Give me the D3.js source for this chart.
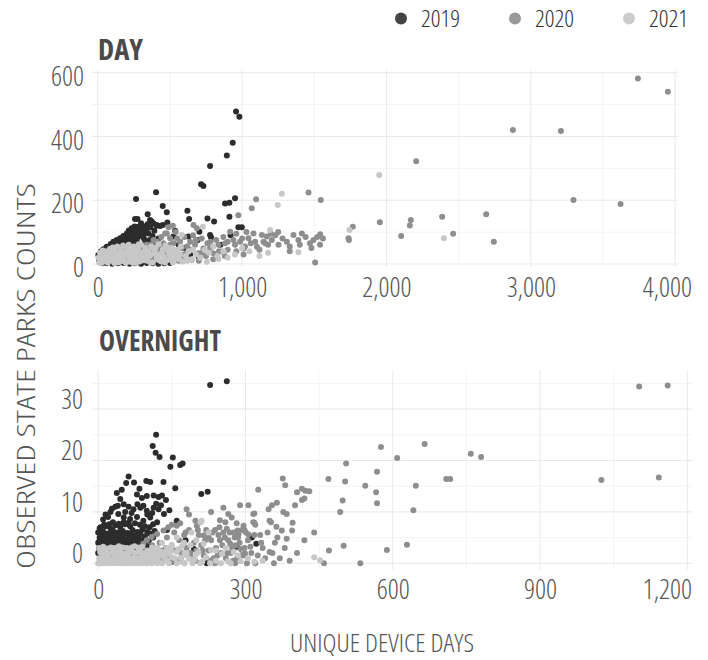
<!DOCTYPE html>
<html>
<head>
<meta charset="utf-8">
<script src="https://cdn.jsdelivr.net/npm/d3@7"></script>
<style>
  html, body { margin: 0; padding: 0; background: #fff; }
  svg text { font-family: "Open Sans", "Noto Sans", sans-serif; font-stretch: 75%; font-weight: 300; }
  svg text.title { font-weight: 700; }
</style>
</head>
<body>
<svg id="chart" width="708" height="660"></svg>
<script>
// Series names and colours
const years = ["2019", "2020", "2021"];
const pointColors = ["#2c2c2c", "#8e8e8e", "#c7c7c7"];
const legendColors = ["#444444", "#999999", "#cccccc"];

// Tick values
const dayXTicks = [0, 1000, 2000, 3000, 4000];
const dayXMinor = [500, 1500, 2500, 3500];
const dayYTicks = [0, 200, 400, 600];
const dayYMinor = [100, 300, 500];
const nightXTicks = [0, 300, 600, 900, 1200];
const nightXMinor = [150, 450, 750, 1050];
const nightYTicks = [0, 10, 20, 30];
const nightYMinor = [5, 15, 25, 35];

// DAY: [unique device days, observed count]
const day2019 = [
  [958,478],[981,462],[935,380],[894,340],[778,307],[716,250],[732,245],[951,206],[912,192],[882,190],
  [404,225],[265,204],[450,182],[478,162],[621,167],[633,141],[346,156],[362,138],[374,133],[258,141],
  [275,141],[482,130],[760,143],[806,133],[912,148],[974,115],[998,115],[408,122],[432,119],[328,109],
  [300,128],[293,112],[281,101],[351,96],[450,122],[392,104],[704,101],[693,75],[778,91],[785,84],
  [628,86],[536,104],[524,86],[409,120],
  [247,107],[224,101],[201,96],[177,88],[155,81],[131,75],[108,70],[90,63],[62,54],[39,46],[21,39],[4,28],
  [230,90],[210,82],[190,75],[170,70],[150,66],[120,60],[100,55],[80,48],[60,42],[40,35],[25,30],[15,22],
  [260,95],[280,85],[300,92],[320,80],[270,72],[240,68],[215,62],[195,58],[165,52],[140,48],[110,42],
  [85,38],[55,30],[35,20],[10,12],[250,55],[300,60],[330,70],[360,75],[380,88],[340,100],[230,40],
  [180,38],[130,32],[75,25],[50,15],[20,8],[400,60],[420,80],[360,50],[290,45],[560,60],[600,50],
  [640,30],[700,20],[530,40],[470,55],[850,60],[920,90],[310,20],[200,20],
  [320,46],[350,45],[380,47],[410,44],[430,46],
  [45,40],[70,50],[95,60],[115,68],[135,70],[160,78],[185,85],[205,88],[220,95],[245,98],[265,110],
  [285,118],[305,110],[325,118],[345,125],[365,115],[385,128],[255,118],[235,112],[215,105],[300,100],
  [320,95],[275,90],[255,80],[225,75],[200,68],[180,60],[160,58],[145,55],[125,50],
  [30,2],[60,3],[100,1],[140,2],[180,3],[220,1],[260,2],[300,1],[340,3],[380,2],[420,1],[460,2],[500,3]
];
const day2020 = [
  [3742,582],[3950,540],[2876,420],[3209,417],[2206,322],[3296,201],[3622,188],[2386,148],[2691,156],
  [1954,131],[2169,138],[2162,121],[2102,88],[2462,95],[2744,70],[1767,117],[1737,81],[1740,75],
  [1460,224],[1545,201],[1097,203],[1067,175],[974,153],[1506,5],[1541,93],[1494,75],[1414,96],[1356,91],
  [1310,70],[1252,60],[1206,75],[1171,86],[1137,91],[1148,70],[1102,54],[1079,96],[1044,81],[1009,49],
  [986,70],[951,60],[917,101],[882,65],[859,39],[836,60],[801,34],[778,50],[732,49],[697,34],[674,60],
  [651,13],[617,34],[582,50],[547,23],[524,65],[501,81],[467,96],[455,65],[420,54],[386,75],[362,39],
  [339,60],[305,29],[270,50],[686,112],[663,122],[478,96],
  [1180,60],[1230,90],[1280,80],[1330,55],[1390,75],[1440,85],[1470,65],[1520,85],[1120,45],[1060,65],
  [1030,100],[1000,80],[960,40],[900,45],[870,85],[820,75],[760,65],[720,80],[660,90],[640,70],[600,85],
  [570,70],[540,100],[510,45],[480,30],[440,85],[400,30],[350,20],[300,45],[250,35],[200,25],[600,20],
  [700,10],[750,25],[800,15],[880,25],[650,45],[560,10],[470,15],[420,35],[380,15],[330,40],[280,20],
  [520,120],[490,115],[1250,100],[1200,95],[1160,65],[1090,70],[1020,55],[940,75],[900,70],[1330,40],
  [1400,60],[1480,50],[1540,60],[1560,80],[1010,30],[960,95],[840,40],[780,70],[720,35],[680,75],
  [620,55],[590,30],[550,80],[500,60],[450,40],[410,70],[370,60],[320,30],[260,40],[230,15],[170,10]
];
const day2021 = [
  [1950,279],[2398,81],[1744,107],[1275,220],[1247,185],[728,117],[582,91],[1390,37],[1194,107],[755,7],[836,16],
  [10,5],[20,15],[30,8],[40,25],[50,12],[60,30],[70,5],[80,20],[90,35],[100,10],[110,28],[120,40],[130,18],
  [140,5],[150,32],[160,45],[170,22],[180,10],[190,38],[200,50],[210,28],[220,15],[230,42],[240,5],
  [250,55],[260,30],[270,18],[280,45],[290,8],[300,60],[310,35],[320,22],[330,50],[340,10],[350,40],
  [360,25],[370,55],[380,5],[390,35],[400,48],[410,18],[420,62],[430,30],[440,8],[450,45],[460,22],
  [470,58],[480,12],[490,38],[500,28],[510,50],[520,5],[530,35],[540,20],[550,45],[560,15],[570,30],
  [590,8],[610,25],[630,40],[650,15],[680,30],[710,20],[740,45],[770,35],[800,55],[830,25],[870,40],
  [900,20],[950,30],[1000,50],[1050,40],[1120,25],[1180,35],
  [5,20],[15,35],[25,3],[35,42],[45,18],[55,8],[65,40],[75,15],[85,48],[95,25],[105,52],[115,3],
  [125,30],[135,55],[145,15],[155,8],[165,35],[175,58],[185,25],[195,3],[205,40],[215,60],[225,8],
  [235,30],[245,20],[255,45],[265,3],[275,35],[285,62],[295,25],[315,12],[325,40],[345,30],[365,5],
  [385,52],[405,30],[425,12],[445,35],[465,5],[485,50],[505,15],[525,45],[545,30],[575,55],[620,10],[660,45]
];

// OVERNIGHT: [unique device days, observed count]
const night2019 = [
  [228,34.7],[262,35.4],[118,25],[111,22.8],[117,21.5],[125,20.7],[152,20.6],[147,18.8],[167,19.1],[172,19.4],
  [133,15.8],[157,14.6],[210,13.5],[223,13.9],[62,16.9],[57,15.6],[38,13.7],[48,14.3],[73,15.7],[98,16],
  [106,15.8],[84,14.5],[79,13.4],[89,12.7],[99,13.1],[113,13.2],[123,12.9],[130,13.2],[52,11.5],[62,11],
  [72,10.5],[86,10.8],[99,10.2],[113,10.8],[123,10.5],[134,9.6],[160,8.3],[41,9.6],[52,8.9],[65,8.6],
  [79,9],[92,8.3],[106,8.9],[120,8],
  [282,3.2],[313,5],[322,3.8],[186,1.6],[221,0],[151,0.3],[226,0.4],[178,4.5],[140,6.5],[195,2.8],
  [5,7],[15,7.2],[25,6.8],[35,7.4],[45,7],[55,7.6],[65,7.2],[75,7.8],
  [0,6],[10,6.2],[20,5.8],[30,6.4],[40,6],[50,6.3],[60,5.9],[70,6.5],[80,6.1],[90,6.6],
  [3,5],[13,4.8],[23,5.2],[33,4.9],[43,5.1],[53,4.8],[63,5.3],[73,5],[83,5.4],[95,5.2],[105,5.8],
  [0,4],[8,3.8],[18,4.1],[28,3.9],[38,4.2],[48,3.8],[58,4.1],[68,4.3],[78,4],[88,4.4],
  [2,3],[12,2.8],[22,3.1],[32,2.9],[42,3.2],[52,3],[62,3.3],[72,3.1],
  [0,2],[6,1.8],[16,2.2],[26,1.9],[36,2.1],
  [30,8],[25,10],[35,11],[45,12.5],[20,9],[10,8.5],
  [4,1.5],[14,1.3],[24,1.6],[34,1.4],[44,1.7],[54,1.5],[64,1.8],[74,1.6],[84,1.9],
  [7,2.5],[17,2.6],[27,2.4],[37,2.7],[47,2.5],[57,2.3],[67,2.6],[77,2.8],[87,2.5],[97,2.9],
  [5,3.5],[15,3.4],[25,3.6],[35,3.3],[45,3.7],[55,3.5],[65,3.8],[75,3.5],[85,3.6],[95,3.9],[102,3.2],
  [3,4.5],[13,4.6],[23,4.4],[33,4.7],[43,4.5],[53,4.3],[63,4.6],[73,4.8],[83,4.5],[93,4.7],[103,4.4],[112,5],
  [6,5.5],[16,5.6],[26,5.4],[36,5.7],[46,5.5],[56,5.8],[66,5.6],[76,5.5],[86,5.9],[100,6.1],[115,6.3],
  [3,6.8],[12,7.5],[22,7.6],[42,7.7],[52,8],[62,7.9],[85,7.5],[95,7.2],[105,7],[112,7.6],
  [15,9.5],[28,10.6],[40,11.2],[55,10],[68,9.8],[80,11.5],[92,11.2],[100,9.5],[110,9.8],[118,11.6],
  [128,11.3],[138,12.3],[145,10.3]
];
const night2020 = [
  [1102,34.4],[1160,34.6],[576,22.6],[665,23.2],[609,20.5],[759,21.3],[780,20.7],[505,19.4],[568,17.8],
  [469,16.4],[503,15.9],[544,15.1],[647,15.1],[709,16.4],[717,16.4],[1025,16.2],[1142,16.7],[566,13.8],
  [498,12.2],[568,11.7],[642,10.3],[493,10],[500,3.4],[588,2.6],[629,3.6],[534,0],
  [326,14.3],[376,16.5],[381,15.2],[405,13.8],[415,14.5],[422,14.1],[430,14],[415,12.3],[420,12.6],
  [401,11.3],[364,11.8],[354,11.3],[347,10.5],[289,11.3],[306,11.3],[318,9.7],[318,7.9],[377,10],
  [384,9.6],[396,7.9],[395,6.4],[384,4.8],[349,8.3],[352,8],[363,7.1],[374,6.4],[349,2.2],[358,0],
  [301,6],[298,6.5],[282,7.8],[284,6.4],[265,9.6],[299,1.9],[296,1.5],[279,0],[303,0],[320,0],
  [316,9.6],[272,8.9],[248,8.4],[259,8],[296,7.3],[316,8],[320,7.5],[238,6.5],[262,6.7],[276,6],
  [286,5.7],[306,5.6],[215,5.4],[225,5],[248,4.5],[269,3.8],[293,1.6],[238,0],[208,0.1],[167,7.8],
  [160,7.3],[150,7.5],[201,7.3],[208,8],[198,8.3],[143,7],[133,6.4],[120,5.7],[109,5.1],[99,4.5],[92,3.8],
  [100,2],[110,3.5],[115,1],[125,4],[130,2.5],[140,5],[145,1.5],[150,3.5],[155,6],[160,0.5],[165,4.5],
  [170,2],[175,5.5],[180,3],[185,6.5],[190,1],[195,4],[200,2.5],[205,5.5],[210,3.5],[215,1.5],[220,6.5],
  [225,2.5],[230,4.5],[235,1],[240,3],[245,5.5],[250,2],[255,6],[260,1],[265,4.5],[270,2],[275,0.5],
  [280,3.5],[285,5],[290,2.8],[310,3.2],[330,5.5],[340,1],[335,3],[360,4],
  [185,9.5],[230,10],[255,10.8],[180,10.5],
  [95,1],[105,0.3],[118,2.2],[128,0.5],[138,3],[148,0.2],[158,2.5],[168,1],[178,6],[188,2],[198,0.5],
  [203,6.5],[213,2.5],[218,4.5],[228,0.5],[233,6],[243,1.5],[247,7],[253,3.5],[258,5],[263,2],[268,6],
  [273,3],[278,5],[283,1],[288,4],[293,6.5],[298,3],[305,4.5],[312,2],[318,5.5],[325,1.5],[332,4],
  [345,6],[355,2],[365,5],[370,1],[380,3],[390,0.5],[405,2],[420,4.5],[440,6],[460,0],[470,2.5]
];
const night2021 = [
  [0,0],[8,0.5],[16,1.2],[24,0.3],[32,2],[40,0.8],[48,1.5],[56,0.2],[64,2.5],[72,1],[80,0.4],[88,1.8],
  [96,0.6],[4,2.2],[12,2.8],[20,1.8],[28,3],[36,1],[44,2.6],[52,0.6],[60,1.6],[68,3.1],[76,2],[84,2.8],
  [92,1.2],[100,2.5],[108,0.8],[116,2],[124,0.3],[132,1.6],[140,0.5],[148,2.4],[156,1],[164,2.8],
  [172,0.2],[180,1.5],[188,3.5],[196,0.8],[204,2.2],[212,0.3],[220,1.2],[230,2.6],[240,0.5],[252,1.8],
  [264,0.4],[276,2.2],[290,0.4],[305,1],[318,0.3],[335,0.5],[452,0.6],[440,1.2],
  [211,8.3],[208,8],[150,3.5],[160,5],[175,4],[190,6],[200,4.5],[215,3.8],[225,6],[240,2.5],[180,2],
  [130,4],[120,3],[260,3],[285,1.5],
  [4,0],[12,0],[20,0],[28,0],[36,0],[44,0],[52,0],[60,0],[68,0],[76,0],[84,0],[92,0],[100,0],[110,0],
  [120,0],[130,0],[144,0],[160,0],[176,0],[192,0],[208,0],[228,0],[250,0],[270,0],
  [2,1],[10,1.1],[18,0.9],[26,1],[34,1.2],[42,1],[50,1.1],[58,0.9],[66,1],[74,1.2],[82,1],[90,0.9],
  [98,1.1],[106,1.5],[114,1],[122,1.3],[135,1.1],[150,1.2],[168,1.1],[185,0.9],
  [6,2],[14,2.1],[22,1.9],[30,2.2],[38,2],[46,2.1],[54,1.9],[62,2],[70,2.2],[78,2.1],[86,2.3],[94,2],
  [104,1.9],[112,2.2],[120,2],[128,2.3],[136,2.1],[144,1.8],[160,2.2],[176,2],[200,1.8],
  [2,3],[10,3.2],[18,2.9],[26,3.1],[34,3],[42,3.3],[50,3.1],[58,3],[66,2.9],[74,3.3],[82,3.1],[90,3.2],
  [110,3.1],[140,3],[170,3.2]
];

const svg = d3.select("#chart");
svg.append("rect").attr("width", 708).attr("height", 660).attr("fill", "#fff");

function drawPanel(cfg) {
  const x = d3.scaleLinear().domain(cfg.xDomain).range(cfg.xRange);
  const y = d3.scaleLinear().domain(cfg.yDomain).range(cfg.yRange);
  const g = svg.append("g");
  const [x0, x1] = cfg.xRange, [y0, y1] = cfg.yRange;

  // minor then major grid
  const grid = (vals, vertical, color) => g.append("g").selectAll("line").data(vals).join("line")
    .attr("x1", d => vertical ? x(d) : x0).attr("x2", d => vertical ? x(d) : x1)
    .attr("y1", d => vertical ? y0 : y(d)).attr("y2", d => vertical ? y1 : y(d))
    .attr("stroke", color).attr("stroke-width", 1);
  grid(cfg.xMinor, true, "#f4f4f4");
  grid(cfg.yMinor, false, "#f4f4f4");
  grid(cfg.xTicks, true, "#e9e9e9");
  grid(cfg.yTicks, false, "#e9e9e9");

  // points, one layer per year
  cfg.series.forEach((data, i) => {
    g.append("g").selectAll("circle").data(data).join("circle")
      .attr("cx", d => x(d[0])).attr("cy", d => y(d[1]))
      .attr("r", 3).attr("fill", pointColors[i]);
  });

  // x axis labels
  const xa = g.append("g").attr("transform", `translate(0,${cfg.xLabelTop})`)
    .call(d3.axisBottom(x).tickValues(cfg.xTicks).tickFormat(d3.format(",")).tickSize(0).tickPadding(0));
  xa.select(".domain").remove();
  xa.selectAll("text").attr("font-size", 27).attr("fill", "#555");
  // keep the last label inside the page
  xa.selectAll(".tick text").each(function () {
    const b = this.getBBox();
    const tx = +this.parentNode.getAttribute("transform").match(/translate\(([-\d.]+)/)[1];
    const right = tx + b.x + b.width;
    if (right > 692) d3.select(this).attr("x", 692 - right);
  });

  // y axis labels
  const ya = g.append("g").attr("transform", `translate(${cfg.yLabelRight},${cfg.yLabelShift})`)
    .call(d3.axisLeft(y).tickValues(cfg.yTicks).tickSize(0).tickPadding(0));
  ya.select(".domain").remove();
  ya.selectAll("text").attr("font-size", 27).attr("fill", "#555");

  // panel title
  svg.append("text").attr("class", "title").attr("x", cfg.titleX).attr("y", cfg.titleY)
    .attr("font-size", 28).attr("fill", "#4a4a4a")
    .attr("textLength", cfg.titleWidth).attr("lengthAdjust", "spacingAndGlyphs")
    .text(cfg.title);
}

drawPanel({
  title: "DAY", titleX: 98, titleY: 60, titleWidth: 45,
  xDomain: [-40, 4020], xRange: [92, 678],
  yDomain: [-9.4, 608.5], yRange: [267, 70],
  xTicks: dayXTicks, xMinor: dayXMinor, yTicks: dayYTicks, yMinor: dayYMinor,
  xLabelTop: 278, yLabelRight: 84, yLabelShift: 4,
  series: [day2019, day2020, day2021]
});

drawPanel({
  title: "OVERNIGHT", titleX: 99, titleY: 351, titleWidth: 122,
  xDomain: [-12.6, 1211], xRange: [92, 692.7],
  yDomain: [-1.3, 37.6], yRange: [570, 370],
  xTicks: nightXTicks, xMinor: nightXMinor, yTicks: nightYTicks, yMinor: nightYMinor,
  xLabelTop: 580, yLabelRight: 83, yLabelShift: -9.5,
  series: [night2019, night2020, night2021]
});

// legend
const legend = svg.append("g");
const legendX = [401, 515, 629];
years.forEach((yr, i) => {
  legend.append("circle").attr("cx", legendX[i]).attr("cy", 18.5).attr("r", 6).attr("fill", legendColors[i]);
  legend.append("text").attr("x", legendX[i] + 20).attr("y", 27).attr("font-size", 24).attr("fill", "#333").text(yr);
});

// axis titles
svg.append("text").attr("x", 382).attr("y", 652).attr("text-anchor", "middle")
  .attr("font-size", 25).attr("fill", "#555")
  .attr("textLength", 184).attr("lengthAdjust", "spacingAndGlyphs").text("UNIQUE DEVICE DAYS");
svg.append("text").attr("transform", "translate(35,376) rotate(-90)").attr("text-anchor", "middle")
  .attr("font-size", 25).attr("fill", "#555")
  .attr("textLength", 386).attr("lengthAdjust", "spacingAndGlyphs").text("OBSERVED STATE PARKS COUNTS");
</script>
</body>
</html>
